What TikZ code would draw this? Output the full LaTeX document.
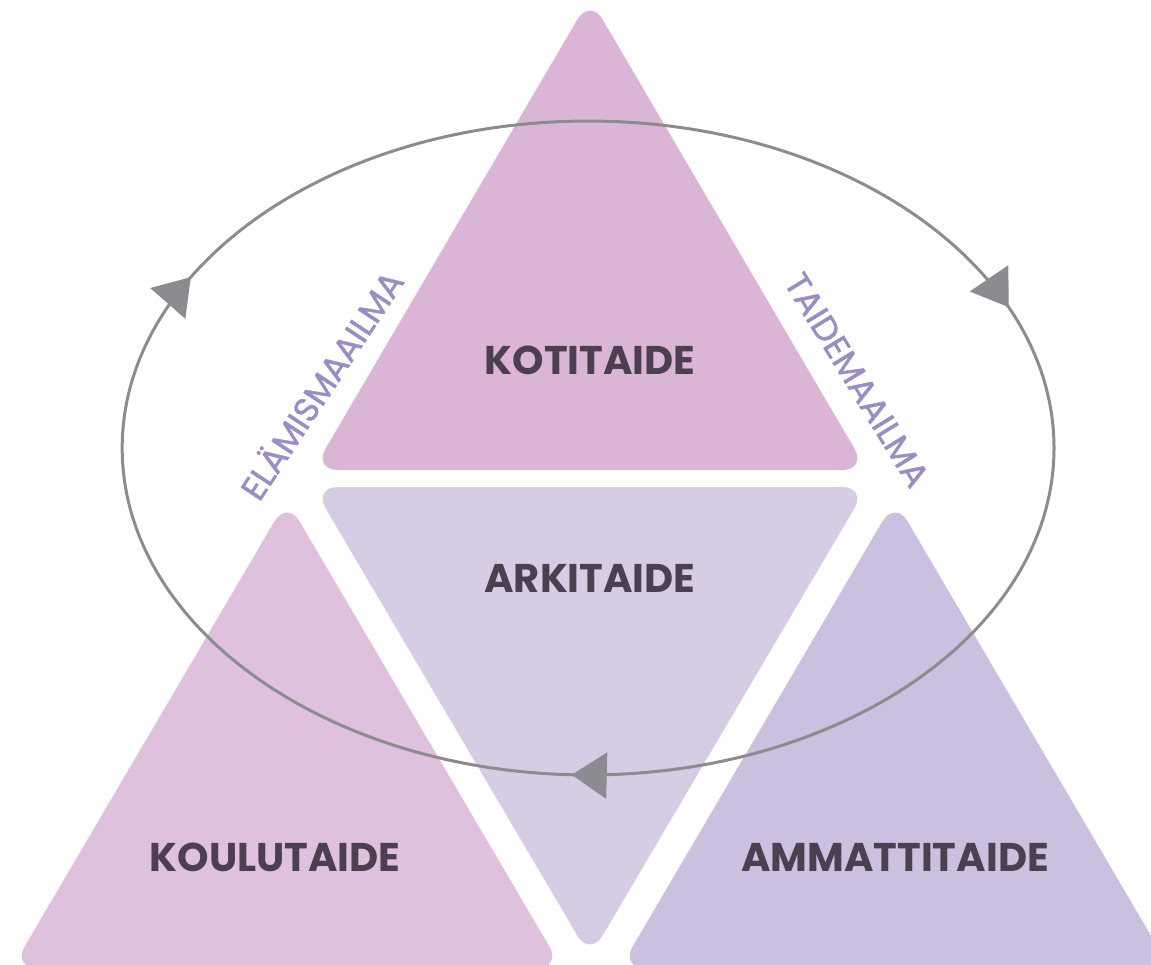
\documentclass[tikz,border=0pt]{standalone}
\usepackage{fontspec}
\setmainfont{Poppins}
\usepackage{xcolor}
\usepackage{tikz}
\usetikzlibrary{arrows.meta,decorations.markings}

\definecolor{kotipink}{HTML}{DBB5D6}
\definecolor{arkililac}{HTML}{D6CCE4}
\definecolor{koulupink}{HTML}{E0C1DD}
\definecolor{ammattililac}{HTML}{CBC0E0}
\definecolor{titlegray}{HTML}{4B3F50}
\definecolor{worldlilac}{HTML}{9A8CC4}
\definecolor{loopgray}{HTML}{8C8B8F}

\begin{document}
\begin{tikzpicture}[x=0.02cm, y=0.02cm]
    \tikzstyle{piece} = [rounded corners=0.5cm]
    \tikzstyle{title} = [text=titlegray, font=\fontsize{22.8}{26}\selectfont\bfseries]
    \tikzstyle{world} = [text=worldlilac, font=\fontsize{19.5}{23}\selectfont\addfontfeatures{FakeBold=1.2}]
    \tikzstyle{loop} = [draw=loopgray, line width=0.06cm]

    \useasboundingbox (0,0) rectangle (1151,964);

    % the four triangles
    \fill [piece, kotipink] (590,966) -- (313,494) -- (867,494) -- cycle;
    \fill [piece, arkililac] (313,477) -- (867,477) -- (590,7) -- cycle;
    \fill [piece, koulupink] (287,464) -- (12,-4) -- (562,-4) -- cycle;
    \fill [piece, ammattililac] (895,464) -- (620,-4) -- (1170,-4) -- cycle;

    % the cycle round them
    \draw [loop, postaction={decorate}, decoration={markings,
        mark=at position 0.2565 with {\arrow[loopgray]{Triangle[length=0.7cm, width=0.92cm]}},
        mark=at position 0.575 with {\arrow[loopgray]{Triangle[length=0.7cm, width=0.92cm]}},
        mark=at position 0.9402 with {\arrow[loopgray]{Triangle[length=0.7cm, width=0.92cm]}}}]
        (1054,516) arc [start angle=0, end angle=-360, x radius=9.32cm, y radius=6.54cm];

    \node [title] (koti) at (590,604) {KOTITAIDE};
    \node [title] (arki) at (590,386) {ARKITAIDE};
    \node [title] (koulu) at (275,107) {KOULUTAIDE};
    \node [title] (ammatti) at (895,107) {AMMATTITAIDE};

    \node [world, rotate=56.6] (elamis) at (320,580) {ELÄMISMAAILMA};
    \node [world, rotate=-58.5] (taide) at (857,584) {TAIDEMAAILMA};
\end{tikzpicture}
\end{document}
